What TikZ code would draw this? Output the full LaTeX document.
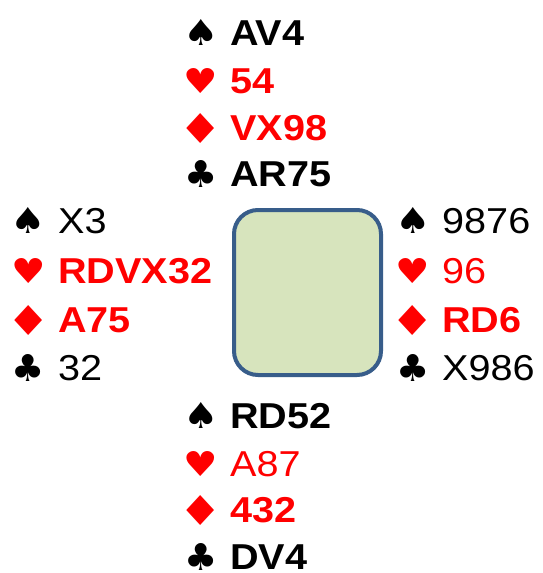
\documentclass[tikz,border=0pt]{standalone}
\usepackage{fontspec}
\usepackage{graphicx}
\setmainfont{Liberation Sans}[FakeStretch=1.1]
\newfontfamily\suitfont{DejaVu Sans}
\definecolor{suitred}{RGB}{255,0,0}
\definecolor{boxfill}{RGB}{215,228,189}
\definecolor{boxline}{RGB}{56,93,138}
\newcommand{\spadeS}{\scalebox{1.11}[1]{\resizebox*{!}{26pt}{\suitfont ♠}}}
\newcommand{\heartS}{\scalebox{1.12}[1]{\resizebox*{!}{25pt}{\suitfont ♥}}}
\newcommand{\diamS}{\scalebox{1.2}[1]{\resizebox*{!}{30pt}{\suitfont ♦}}}
\newcommand{\clubS}{\scalebox{1.0}[1]{\resizebox*{!}{27pt}{\suitfont ♣}}}
\begin{document}
\begin{tikzpicture}[x=1pt,y=-1pt,
  holding/.style={anchor=base west, inner sep=0pt, font=\fontsize{36}{36}\selectfont},
  boldholding/.style={holding, font=\fontsize{36}{36}\selectfont\bfseries},
  suit/.style={anchor=center, inner sep=0pt},
  redsuit/.style={suit, text=suitred},
  redtext/.style={text=suitred}]
\useasboundingbox (0,0) rectangle (543,573);
% table
\draw[line width=4pt, draw=boxline, fill=boxfill, rounded corners=24pt] (234,210) rectangle (381,375);
\node[draw=none, inner sep=0pt] (table) at (307.5,292.5) {};
% North
\node[suit] (ns) at (201,32) {\spadeS};
\node[boldholding] (nst) at (230,45) {AV4};
\node[redsuit] (nh) at (201,81) {\heartS};
\node[boldholding, redtext] (nht) at (230,93) {54};
\node[redsuit] (nd) at (201,128) {\diamS};
\node[boldholding, redtext] (ndt) at (230,140) {VX98};
\node[suit] (nc) at (201,174) {\clubS};
\node[boldholding] (nct) at (230,186) {AR75};
% West
\node[suit] (ws) at (28,220) {\spadeS};
\node[holding] (wst) at (58,233) {X3};
\node[redsuit] (wh) at (29,271) {\heartS};
\node[boldholding, redtext] (wht) at (58,283) {RDVX32};
\node[redsuit] (wd) at (29,320) {\diamS};
\node[boldholding, redtext] (wdt) at (58,332) {A75};
\node[suit] (wc) at (28,368) {\clubS};
\node[holding] (wct) at (58,380) {32};
% East
\node[suit] (es) at (413,220) {\spadeS};
\node[holding] (est) at (442,233) {9876};
\node[redsuit] (eh) at (413,271) {\heartS};
\node[holding, redtext] (eht) at (442,283) {96};
\node[redsuit] (ed) at (413,320) {\diamS};
\node[boldholding, redtext] (edt) at (442,332) {RD6};
\node[suit] (ec) at (413,368) {\clubS};
\node[holding] (ect) at (442,380) {X986};
% South
\node[suit] (ss) at (201,415) {\spadeS};
\node[boldholding] (sst) at (230,428) {RD52};
\node[redsuit] (sh) at (201,464) {\heartS};
\node[holding, redtext] (sht) at (230,476) {A87};
\node[redsuit] (sd) at (201,510) {\diamS};
\node[boldholding, redtext] (sdt) at (230,522) {432};
\node[suit] (sc) at (201,557) {\clubS};
\node[boldholding] (sct) at (230,569) {DV4};
\end{tikzpicture}
\end{document}
